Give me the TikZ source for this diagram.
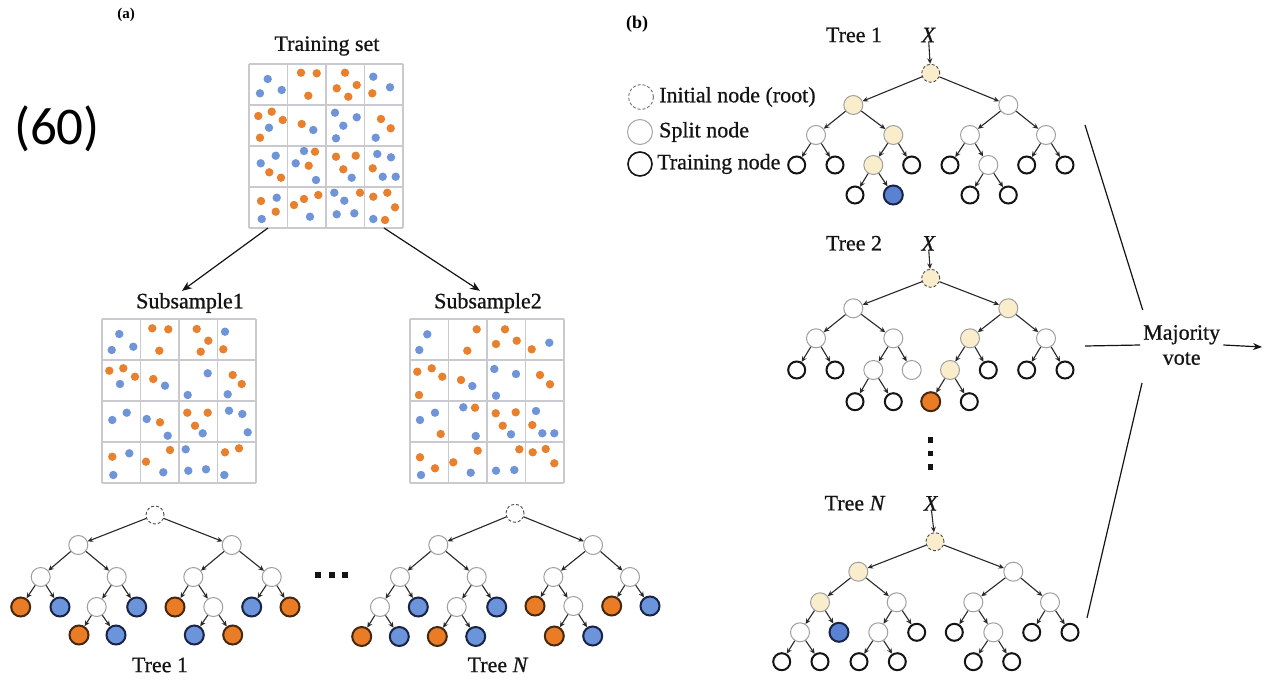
\documentclass[tikz,border=0pt]{standalone}
\usepackage{fontspec}
\setmainfont{Liberation Serif}
\newfontfamily\heavyserif[FakeBold=0.7]{Liberation Serif}
\newfontfamily\carlito{Carlito}
\usetikzlibrary{arrows.meta}

\definecolor{dotorange}{RGB}{232,128,46}
\definecolor{dotblue}{RGB}{112,148,216}
\definecolor{gridgray}{RGB}{200,202,208}
\definecolor{leaforange}{RGB}{234,124,38}
\definecolor{leafblue}{RGB}{108,148,218}
\definecolor{deepblue}{RGB}{90,130,210}
\definecolor{orangerim}{RGB}{70,40,15}
\definecolor{bluerim}{RGB}{25,35,70}
\definecolor{pathyellow}{RGB}{249,237,204}
\definecolor{splitgray}{RGB}{160,160,160}
\definecolor{edgegray}{RGB}{40,40,40}
\definecolor{inkblack}{RGB}{20,20,20}

\tikzset{
  lbl/.style={font=\heavyserif\fontsize{22}{25}\selectfont, text=inkblack, inner sep=0pt},
  gridline/.style={draw=gridgray, line width=1.5pt},
  edge/.style={draw=edgegray, line width=1.1pt, -{Stealth[length=5.5pt,width=5pt]}},
  bigarrow/.style={draw=inkblack, line width=1.2pt, -{Stealth[length=10pt,width=8pt]}},
  rootnode/.style={circle, minimum size=18pt, inner sep=0pt, draw=black!70, line width=0.9pt, dash pattern=on 3pt off 2pt, fill=white},
  splitnode/.style={circle, minimum size=19pt, inner sep=0pt, draw=splitgray, line width=1pt, fill=white},
  pathnode/.style={splitnode, fill=pathyellow},
  pathroot/.style={rootnode, fill=pathyellow},
  trainnode/.style={circle, minimum size=17pt, inner sep=0pt, draw=inkblack, line width=2pt, fill=white},
  leafo/.style={circle, minimum size=19pt, inner sep=0pt, draw=orangerim, line width=2pt, fill=leaforange},
  leafb/.style={circle, minimum size=19pt, inner sep=0pt, draw=bluerim, line width=2pt, fill=leafblue},
}

% 4x4 sample grid: name, left edge, top edge
\newcommand\samplegrid[3]{%
  \node[minimum width=154pt, minimum height=164pt, inner sep=0pt, outer sep=0pt] (#1) at (#2+77,#3+82) {};
  \foreach \i in {0,...,4}{%
    \draw[gridline] (#2+\i*38.5,#3) -- (#2+\i*38.5,#3+164);
    \draw[gridline] (#2,#3+\i*41) -- (#2+154,#3+\i*41);
  }%
}
\newcommand\bluedots[1]{\foreach \px/\py in {#1} \fill[dotblue] (\px,\py) circle[radius=4.2pt];}
\newcommand\orangedots[1]{\foreach \px/\py in {#1} \fill[dotorange] (\px,\py) circle[radius=4.2pt];}
\newcommand\kids[2]{\foreach \c in {#2}{\draw[edge] (#1) -- (\c);}}

\begin{document}
\begin{tikzpicture}[x=1pt,y=-1pt]
\useasboundingbox (0,0) rectangle (1266,680);
\fill[white] (0,0) rectangle (1266,680);

% ---------- panel labels ----------
\node[font=\carlito\fontsize{53}{53}\selectfont, inner sep=0pt] (num) at (57,129) {(60)};
\node[font=\bfseries\fontsize{15}{17}\selectfont, inner sep=0pt] (pa) at (126,15) {(a)};
\node[font=\bfseries\fontsize{18}{20}\selectfont, inner sep=0pt] (pb) at (637,24) {(b)};

% ---------- training set ----------
\node[lbl] (tslab) at (327,46) {Training set};
\samplegrid{ts}{249}{64}
\bluedots{267.7/79,260/93.3,281.7/90,373.3/76.7,390/87.3,269/127.7,313.3/130,335/112.7,356.7/117.3,343.3/125.7,336/138.3,375.7/137.7,275.7/155.7,260.7/163.3,304/151,295.7/163.3,316/180,351.7/177.7,377.3/154,391/157.3,382.7/176.7,395.7/176.7,276.7/197.7,261.7/219,310/216.7,334.3/192.7,344.3/200.7,336.7/214.3,354.3/213.3,373.3/219}
\orangedots{301/72.7,316.7/73.3,308.3/95.7,345/72.7,336.7/88.3,356.7/85,348.3/96.7,372.3/93.3,258.3/116,271.7/111.7,282.7/120,260/137.7,301.7/124,381/119,390.7/128.3,269.3/172.3,281/177.7,315/151.7,308.7/165.7,336/156.7,355.7/155.7,343.3/169.3,372.7/168.3,261/201,275.7/211.7,294/205,304/199,318.3/195,360/192.7,373.3/196.7,387.3/192.7,395/207.3,385/220}

% ---------- subsamples ----------
\node[lbl] (s1lab) at (190,303) {Subsample1};
\samplegrid{s1}{102}{319}
\bluedots{119.3/334,111.7/350,133.3/346.7,225/331.7,120/384,165/385.7,207.7/373.3,187.7/395,227.7/394.3,126.7/412.7,112.3/420,146.7/419,167.7/435.7,202.7/433.3,229/410.7,242.3/414,247.7/432.3,129.3/453.3,113.3/475,163.3/472.3,185.7/449.3,188.3/470.7,206/469.3,224.3/475}
\orangedots{152.3/328.3,168.3/329.3,159.3/350.7,196.7/329,208.3/340.7,200.7/351.7,223.3/349.3,109.3/370.7,123.3/368.3,135/376.7,153.3/379,232.7/375,241.7/384,160/422.3,187.3/412.7,207.7/412.7,195/425.7,112.3/456.7,170/450,146/461.7,225/452.3,239/448.3}

\node[lbl] (s2lab) at (488,303) {Subsample2};
\samplegrid{s2}{410}{319}
\bluedots{427.3/334.3,419.3/350,549.3/342.7,472.3/386,494.3/369,516/374,496/395.7,435/412.7,420/420,463.3/407.3,475.7/436,511/434.3,536/411,542.3/433.3,554.3/433.3,421/475,470.7/472.7,496/470.7,514.3/470}
\orangedots{476.7/329.3,467.3/350.7,505/329.3,496/344,516.7/340.7,531.7/349.3,417.3/371.7,431.7/368.3,442.3/376.7,419/395,461/380,540/375,550/384.3,440.7/434,475/407.7,495.7/413.3,515.7/412.3,502.7/425.7,532.3/425,420/457.3,435/468.3,477.7/450.7,453.3/462.3,519.3/449.3,532.7/452.3,545.7/449,554.3/463.3}

\draw[bigarrow] ([xshift=-58pt]ts.south) -- ([xshift=-8pt,yshift=2pt]s1lab.north);
\draw[bigarrow] ([xshift=58pt]ts.south) -- ([xshift=-8pt,yshift=2pt]s2lab.north);

% ---------- panel (a): tree 1 ----------
\node[rootnode] (t1) at (155,515) {};
\node[splitnode] (t1l) at (78.3,545) {};
\node[splitnode] (t1r) at (231.7,545) {};
\node[splitnode] (t1ll) at (40.7,577) {};
\node[splitnode] (t1lr) at (116.7,577) {};
\node[splitnode] (t1rl) at (193.3,577) {};
\node[splitnode] (t1rr) at (271.7,577) {};
\node[leafo] (t1lll) at (20.7,607) {};
\node[leafb] (t1llr) at (60,607) {};
\node[splitnode] (t1lrl) at (96.7,607) {};
\node[leafb] (t1lrr) at (136.7,607) {};
\node[leafo] (t1rll) at (175,607) {};
\node[splitnode] (t1rlr) at (213.3,607) {};
\node[leafb] (t1rrl) at (251.7,607) {};
\node[leafo] (t1rrr) at (290,607) {};
\node[leafo] (t1lrll) at (79,635) {};
\node[leafb] (t1lrlr) at (116,635) {};
\node[leafb] (t1rlrl) at (194.3,635) {};
\node[leafo] (t1rlrr) at (232.7,635) {};
\kids{t1}{t1l,t1r}
\kids{t1l}{t1ll,t1lr}
\kids{t1r}{t1rl,t1rr}
\kids{t1ll}{t1lll,t1llr}
\kids{t1lr}{t1lrl,t1lrr}
\kids{t1rl}{t1rll,t1rlr}
\kids{t1rr}{t1rrl,t1rrr}
\kids{t1lrl}{t1lrll,t1lrlr}
\kids{t1rlr}{t1rlrl,t1rlrr}
\node[lbl] (t1lab) at (160,665) {Tree 1};

% ellipsis between the trees
\foreach \sx in {318,331.5,345}
  \fill[inkblack] (\sx-3,572) rectangle (\sx+3,578);

% ---------- panel (a): tree N ----------
\node[rootnode] (tn) at (515,513.3) {};
\node[splitnode] (tnl) at (438.3,545) {};
\node[splitnode] (tnr) at (593,545) {};
\node[splitnode] (tnll) at (400,577) {};
\node[splitnode] (tnlr) at (476.7,577) {};
\node[splitnode] (tnrl) at (553.3,577) {};
\node[splitnode] (tnrr) at (630,577) {};
\node[splitnode] (tnlll) at (380,607) {};
\node[leafb] (tnllr) at (418.3,607) {};
\node[splitnode] (tnlrl) at (456.7,607) {};
\node[leafb] (tnlrr) at (496.7,607) {};
\node[leafo] (tnrll) at (535,606) {};
\node[splitnode] (tnrlr) at (573.3,606) {};
\node[leafo] (tnrrl) at (611.7,606) {};
\node[leafb] (tnrrr) at (650,606) {};
\node[leafo] (tnllll) at (361.7,636.5) {};
\node[leafb] (tnlllr) at (399.3,636.5) {};
\node[leafo] (tnlrll) at (437.3,636.5) {};
\node[leafb] (tnlrlr) at (475.7,636.5) {};
\node[leafo] (tnrlrl) at (554.3,636) {};
\node[leafb] (tnrlrr) at (592.7,636) {};
\kids{tn}{tnl,tnr}
\kids{tnl}{tnll,tnlr}
\kids{tnr}{tnrl,tnrr}
\kids{tnll}{tnlll,tnllr}
\kids{tnlr}{tnlrl,tnlrr}
\kids{tnrl}{tnrll,tnrlr}
\kids{tnrr}{tnrrl,tnrrr}
\kids{tnlll}{tnllll,tnlllr}
\kids{tnlrl}{tnlrll,tnlrlr}
\kids{tnrlr}{tnrlrl,tnrlrr}
\node[lbl] (tnlab) at (498,665) {Tree \textit{N}};

% ---------- panel (b): legend ----------
\node[rootnode, minimum size=25pt, draw=black!55] (lgr) at (641,97) {};
\node[lbl, anchor=west] (lgrt) at (659,97) {Initial node (root)};
\node[splitnode, minimum size=25pt, draw=black!35] (lgs) at (640,132) {};
\node[lbl, anchor=west] (lgst) at (659,132) {Split node};
\node[trainnode, minimum size=24pt, line width=1.6pt] (lgt) at (640,164) {};
\node[lbl, anchor=west] (lgtt) at (657,164) {Training node};

% ---------- panel (b): tree 1 ----------
\node[lbl] (b1lab) at (854,35) {Tree 1};
\node[lbl, font=\heavyserif\itshape\fontsize{22}{25}\selectfont] (b1x) at (928.3,35) {X};
\node[pathroot] (b1) at (930.7,73.3) {};
\draw[edge] (b1x) -- (b1);
\node[pathnode] (b1l) at (853.3,105) {};
\node[splitnode] (b1r) at (1008.3,105) {};
\node[splitnode] (b1ll) at (816,135) {};
\node[pathnode] (b1lr) at (893.3,135) {};
\node[splitnode] (b1rl) at (970,135) {};
\node[splitnode] (b1rr) at (1046,135) {};
\node[trainnode] (b1lll) at (796.7,165) {};
\node[trainnode] (b1llr) at (835,165) {};
\node[pathnode] (b1lrl) at (873.3,165) {};
\node[trainnode] (b1lrr) at (911.7,165) {};
\node[trainnode] (b1rll) at (950,165) {};
\node[splitnode] (b1rlr) at (988.3,165) {};
\node[trainnode] (b1rrl) at (1026.7,165) {};
\node[trainnode] (b1rrr) at (1065,165) {};
\node[trainnode] (b1lrll) at (855,195) {};
\node[leafb, fill=deepblue] (b1lrlr) at (893.3,195) {};
\node[trainnode] (b1rlrl) at (970,195) {};
\node[trainnode] (b1rlrr) at (1008.3,195) {};
\kids{b1}{b1l,b1r}
\kids{b1l}{b1ll,b1lr}
\kids{b1r}{b1rl,b1rr}
\kids{b1ll}{b1lll,b1llr}
\kids{b1lr}{b1lrl,b1lrr}
\kids{b1rl}{b1rll,b1rlr}
\kids{b1rr}{b1rrl,b1rrr}
\kids{b1lrl}{b1lrll,b1lrlr}
\kids{b1rlr}{b1rlrl,b1rlrr}

% ---------- panel (b): tree 2 ----------
\node[lbl] (b2lab) at (854,243.3) {Tree 2};
\node[lbl, font=\heavyserif\itshape\fontsize{22}{25}\selectfont] (b2x) at (928.3,243.3) {X};
\node[pathroot] (b2) at (930.7,278.3) {};
\draw[edge] (b2x) -- (b2);
\node[splitnode] (b2l) at (853.3,308.3) {};
\node[pathnode] (b2r) at (1008.3,308.3) {};
\node[splitnode] (b2ll) at (816,338.3) {};
\node[splitnode] (b2lr) at (893.3,338.3) {};
\node[pathnode] (b2rl) at (970,338.3) {};
\node[splitnode] (b2rr) at (1046,338.3) {};
\node[trainnode] (b2lll) at (796.7,370) {};
\node[trainnode] (b2llr) at (835,370) {};
\node[splitnode] (b2lrl) at (873.3,370) {};
\node[splitnode] (b2lrr) at (911.7,370) {};
\node[pathnode] (b2rll) at (950,370) {};
\node[trainnode] (b2rlr) at (988.3,370) {};
\node[trainnode] (b2rrl) at (1026.7,370) {};
\node[trainnode] (b2rrr) at (1065,370) {};
\node[trainnode] (b2lrll) at (855,401.7) {};
\node[trainnode] (b2lrlr) at (893.3,401.7) {};
\node[leafo] (b2rlll) at (930.7,401.7) {};
\node[trainnode] (b2rllr) at (969.3,401.7) {};
\kids{b2}{b2l,b2r}
\kids{b2l}{b2ll,b2lr}
\kids{b2r}{b2rl,b2rr}
\kids{b2ll}{b2lll,b2llr}
\kids{b2lr}{b2lrl,b2lrr}
\kids{b2rl}{b2rll,b2rlr}
\kids{b2rr}{b2rrl,b2rrr}
\kids{b2lrl}{b2lrll,b2lrlr}
\kids{b2rll}{b2rlll,b2rllr}

% vertical ellipsis
\foreach \sy in {440,453.5,467}
  \fill[inkblack] (927.5,\sy-2.7) rectangle (933,\sy+2.7);

% ---------- panel (b): tree N ----------
\node[lbl] (bnlab) at (855,503.3) {Tree \textit{N}};
\node[lbl, font=\heavyserif\itshape\fontsize{22}{25}\selectfont] (bnx) at (930.7,503.3) {X};
\node[pathroot] (bn) at (935,541.7) {};
\draw[edge] (bnx) -- (bn);
\node[pathnode] (bnl) at (858.3,571.7) {};
\node[splitnode] (bnr) at (1013.3,571.7) {};
\node[pathnode] (bnll) at (820,602.3) {};
\node[splitnode] (bnlr) at (896.7,602.3) {};
\node[splitnode] (bnrl) at (973.3,602.3) {};
\node[splitnode] (bnrr) at (1050,602.3) {};
\node[splitnode] (bnlll) at (800,632.3) {};
\node[leafb, fill=deepblue] (bnllr) at (839,632.3) {};
\node[splitnode] (bnlrl) at (878.3,632.3) {};
\node[trainnode] (bnlrr) at (916.7,632.3) {};
\node[trainnode] (bnrll) at (954.3,632.3) {};
\node[splitnode] (bnrlr) at (993.3,632.3) {};
\node[trainnode] (bnrrl) at (1031.7,632.3) {};
\node[trainnode] (bnrrr) at (1070,632.3) {};
\node[trainnode] (bnllll) at (781.7,661.7) {};
\node[trainnode] (bnlllr) at (820,661.7) {};
\node[trainnode] (bnlrll) at (859,661.7) {};
\node[trainnode] (bnlrlr) at (897.3,661.7) {};
\node[trainnode] (bnrlrl) at (973.3,661.7) {};
\node[trainnode] (bnrlrr) at (1011.7,661.7) {};
\kids{bn}{bnl,bnr}
\kids{bnl}{bnll,bnlr}
\kids{bnr}{bnrl,bnrr}
\kids{bnll}{bnlll,bnllr}
\kids{bnlr}{bnlrl,bnlrr}
\kids{bnrl}{bnrll,bnrlr}
\kids{bnrr}{bnrrl,bnrrr}
\kids{bnlll}{bnllll,bnlllr}
\kids{bnlrl}{bnlrll,bnlrlr}
\kids{bnrlr}{bnrlrl,bnrlrr}

% ---------- majority vote ----------
\node[lbl, align=center] (mv) at (1181.7,345) {Majority\\vote};
\coordinate (vin) at (1085,346);
\coordinate (vout) at (1262,347);
\coordinate (up1) at (1085,125);
\coordinate (up2) at (1142.7,310);
\coordinate (lo1) at (1142,383);
\coordinate (lo2) at (1087,618);
\draw[draw=inkblack, line width=1.2pt] (up1) -- (up2);
\draw[draw=inkblack, line width=1.2pt] (lo1) -- (lo2);
\draw[draw=inkblack, line width=1.2pt] (vin) -- ([xshift=-3pt]mv.west);
\draw[draw=inkblack, line width=1.2pt, -{Stealth[length=9pt,width=7pt]}] ([xshift=3pt]mv.east) -- (vout);
\end{tikzpicture}
\end{document}
